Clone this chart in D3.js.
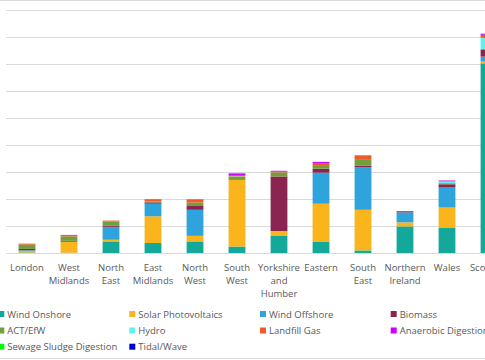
<!DOCTYPE html>
<html><head><meta charset="utf-8">
<script src="https://cdn.jsdelivr.net/npm/d3@7"></script>
<style>
html,body{margin:0;padding:0;background:#fff;overflow:hidden}
svg{display:block}
text{font-family:"Open Sans",sans-serif;fill:#595959}
</style></head>
<body><svg id="chart" width="485" height="360"></svg>
<script>
const regions = ["London","West Midlands","North East","East Midlands","North West","South West","Yorkshire and Humber","Eastern","South East","Northern Ireland","Wales","Scotland"];
const regionLines = [["London"],["West","Midlands"],["North","East"],["East","Midlands"],["North","West"],["South","West"],["Yorkshire","and","Humber"],["Eastern"],["South","East"],["Northern","Ireland"],["Wales"],["Scotland"]];
const technologies = ["Wind Onshore","Solar Photovoltaics","Wind Offshore","Biomass","ACT/EfW","Hydro","Landfill Gas","Anaerobic Digestion","Sewage Sludge Digestion","Tidal/Wave"];
const colors = ["#14a89b","#fbb51c","#2ea3dc","#8c2451","#70a03c","#5ff3ee","#f05a28","#cc00ff","#00ff00","#0000cc"];
// values per technology, ordered as regions
const windOnshore   = [20,10,430,370,430,240,630,425,95,985,925,7025];
const solarPV       = [60,410,60,990,205,2480,185,1400,1505,150,760,65];
const windOffshore  = [20,0,480,465,965,0,0,1150,1580,370,740,185];
const biomass       = [50,30,50,50,140,20,2020,150,50,30,120,250];
const actEfw        = [160,165,150,35,130,90,150,100,220,0,40,35];
const hydro         = [0,0,0,0,0,10,0,0,0,0,60,410];
const landfillGas   = [25,50,30,75,110,50,50,110,160,0,30,75];
const anaerobic     = [10,5,0,10,10,60,10,40,10,10,15,60];
const sewageSludge  = [0,0,0,0,0,0,0,0,0,0,0,5];
const tidalWave     = [0,0,0,0,0,0,0,0,0,10,0,10];
const yTicks = [0,1000,2000,3000,4000,5000,6000,7000,8000,9000];

const series = [windOnshore,solarPV,windOffshore,biomass,actEfw,hydro,landfillGas,anaerobic,sewageSludge,tidalWave];
const table = regions.map((r,i)=>{const o={region:r}; technologies.forEach((t,k)=>o[t]=series[k][i]); return o;});

const svg = d3.select("#chart");
const W=485,H=360;
const x = d3.scaleBand().domain(regions).range([6,510]).paddingInner(0.6).paddingOuter(0.3);
const y = d3.scaleLinear().domain([0,9000]).range([253,10]);

// borders
svg.append("line").attr("x1",0).attr("x2",W).attr("y1",0.5).attr("y2",0.5).attr("stroke","#d9d9d9");
svg.append("line").attr("x1",0).attr("x2",W).attr("y1",358.5).attr("y2",358.5).attr("stroke","#d9d9d9");

// gridlines
svg.append("g").selectAll("line").data(yTicks).join("line")
  .attr("x1",6).attr("x2",W).attr("y1",d=>Math.round(y(d))+0.5).attr("y2",d=>Math.round(y(d))+0.5)
  .attr("stroke","#d9d9d9").attr("stroke-width",1);

const stack = d3.stack().keys(technologies)(table);
svg.append("g").selectAll("g").data(stack).join("g")
  .attr("fill",(d,i)=>colors[i])
  .selectAll("rect").data(d=>d).join("rect")
  .attr("x",d=>x(d.data.region)).attr("width",x.bandwidth())
  .attr("y",d=>y(d[1])).attr("height",d=>Math.max(0,y(d[0])-y(d[1])));

// x axis labels
const xl = svg.append("g");
regions.forEach((r,i)=>{
  const t = xl.append("text").attr("x",x(r)+x.bandwidth()/2).attr("y",270.5)
    .attr("text-anchor","middle").attr("font-size","9.5px");
  regionLines[i].forEach((ln,j)=>t.append("tspan").attr("x",x(r)+x.bandwidth()/2).attr("dy",j?13.2:0).text(ln));
});

// legend
const colX=[-1.7,129.3,260,390.7], rowY=[314,330.5,346.7];
const lg = svg.append("g");
technologies.forEach((t,k)=>{
  const cx=colX[k%4], cy=rowY[Math.floor(k/4)];
  lg.append("rect").attr("x",cx).attr("y",cy-3).attr("width",6).attr("height",6).attr("fill",colors[k]);
  lg.append("text").attr("x",cx+9).attr("y",cy+3.5).attr("font-size","9.5px").text(t);
});
</script></body></html>
